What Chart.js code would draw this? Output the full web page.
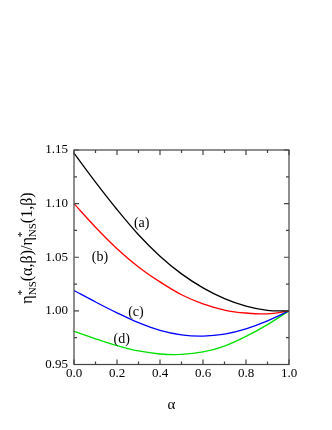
<!DOCTYPE html>
<html>
<head>
<meta charset="utf-8">
<script src="https://cdn.jsdelivr.net/npm/chart.js@4.4.0/dist/chart.umd.min.js"></script>
<style>
    html, body { margin: 0; padding: 0; background: #fff; }
    #wrap { width: 332px; height: 430px; }
</style>
</head>
<body>
<div id="wrap"><canvas id="viscChart" width="332" height="430"></canvas></div>
<script>
// Data
const alphaValues = [0.0, 0.1, 0.2, 0.3, 0.4, 0.5, 0.6, 0.7, 0.8, 0.9, 1.0];
const curveA = [1.147, 1.120, 1.0945, 1.071, 1.051, 1.0345, 1.0215, 1.0115, 1.0045, 1.0005, 1.000];
const curveB = [1.100, 1.078, 1.058, 1.041, 1.027, 1.015, 1.0065, 1.0008, 0.998, 0.9972, 1.000];
const curveC = [1.019, 1.0083, 0.9982, 0.9890, 0.9818, 0.9776, 0.9765, 0.9783, 0.9832, 0.9906, 1.000];
const curveD = [0.981, 0.9740, 0.9676, 0.9626, 0.9598, 0.9594, 0.9617, 0.9672, 0.9762, 0.9872, 1.000];
const curveNames = ['(a)', '(b)', '(c)', '(d)'];
const xTicks = [0.0, 0.2, 0.4, 0.6, 0.8, 1.0];
const yTicks = [0.95, 1.00, 1.05, 1.10, 1.15];

const SERIF = '"Liberation Serif", "Times New Roman", serif';

// label anchors in data units
const labelPos = [
    { x: 0.315, y: 1.082 },
    { x: 0.121, y: 1.050 },
    { x: 0.288, y: 0.9985 },
    { x: 0.222, y: 0.9734 }
];

function toPoints(vals) {
    return alphaValues.map((a, i) => ({ x: a, y: vals[i] }));
}

// Frame, inward ticks, curve labels and axis titles
const decorPlugin = {
    id: 'decor',
    afterDraw(chart) {
        const ctx = chart.ctx;
        const area = chart.chartArea;
        const xs = chart.scales.x;
        const ys = chart.scales.y;

        ctx.save();
        ctx.strokeStyle = '#444';
        ctx.lineWidth = 1.2;
        ctx.strokeRect(area.left, area.top, area.right - area.left, area.bottom - area.top);

        // x ticks every 0.1, bottom and top
        for (let i = 0; i <= 10; i++) {
            const px = xs.getPixelForValue(i / 10);
            const len = i % 2 === 0 ? 5 : 3;
            ctx.beginPath();
            ctx.moveTo(px, area.bottom);
            ctx.lineTo(px, area.bottom - len);
            ctx.moveTo(px, area.top);
            ctx.lineTo(px, area.top + len);
            ctx.stroke();
        }
        // y ticks every 0.025, left and right
        for (let i = 0; i <= 8; i++) {
            const py = ys.getPixelForValue(0.95 + i * 0.025);
            const len = i % 2 === 0 ? 5 : 3;
            ctx.beginPath();
            ctx.moveTo(area.left, py);
            ctx.lineTo(area.left + len, py);
            ctx.moveTo(area.right, py);
            ctx.lineTo(area.right - len, py);
            ctx.stroke();
        }

        // curve labels
        ctx.fillStyle = '#000';
        ctx.font = '14px ' + SERIF;
        ctx.textAlign = 'center';
        ctx.textBaseline = 'middle';
        curveNames.forEach((name, i) => {
            ctx.fillText(name, xs.getPixelForValue(labelPos[i].x), ys.getPixelForValue(labelPos[i].y));
        });

        // x title
        ctx.font = '15px ' + SERIF;
        ctx.fillText('α', (area.left + area.right) / 2 - 10, 405);

        // y title with super/subscripts
        const main = '16px ' + SERIF;
        const small = '11px ' + SERIF;
        const parts = [
            { t: 'η', f: main },
            { sup: '*', sub: 'NS' },
            { t: '(α,β)/η', f: main },
            { sup: '*', sub: 'NS' },
            { t: '(1,β)', f: main }
        ];
        let total = 0;
        parts.forEach(p => {
            if (p.t) {
                ctx.font = p.f;
                p.w = ctx.measureText(p.t).width;
            } else {
                ctx.font = small;
                p.w = Math.max(ctx.measureText(p.sup).width, ctx.measureText(p.sub).width);
            }
            total += p.w;
        });
        ctx.translate(27, 248);
        ctx.rotate(-Math.PI / 2);
        ctx.textAlign = 'left';
        ctx.textBaseline = 'alphabetic';
        let cx = -total / 2;
        parts.forEach(p => {
            if (p.t) {
                ctx.font = p.f;
                ctx.fillText(p.t, cx, 5);
            } else {
                ctx.font = small;
                ctx.fillText(p.sup, cx, -2);
                ctx.fillText(p.sub, cx, 9);
            }
            cx += p.w;
        });
        ctx.restore();
    }
};

const colors = ['#000000', '#ff0000', '#0000ff', '#00e000'];
const series = [curveA, curveB, curveC, curveD];

new Chart(document.getElementById('viscChart'), {
    type: 'line',
    data: {
        datasets: series.map((vals, i) => ({
            label: curveNames[i],
            data: toPoints(vals),
            borderColor: colors[i],
            borderWidth: 1.3,
            pointRadius: 0,
            tension: 0.35,
            fill: false
        }))
    },
    options: {
        responsive: false,
        animation: false,
        layout: { padding: { left: 0, right: 43, top: 150, bottom: 0 } },
        plugins: {
            legend: { display: false },
            tooltip: { enabled: false }
        },
        scales: {
            x: {
                type: 'linear',
                min: 0,
                max: 1,
                afterBuildTicks: scale => { scale.ticks = xTicks.map(v => ({ value: v })); },
                afterFit: scale => { scale.height = 65.5; },
                grid: { display: false, drawTicks: false },
                border: { display: false },
                ticks: {
                    padding: 1,
                    color: '#000',
                    font: { family: SERIF, size: 13 },
                    callback: v => v.toFixed(1)
                }
            },
            y: {
                type: 'linear',
                min: 0.95,
                max: 1.15,
                afterBuildTicks: scale => { scale.ticks = yTicks.map(v => ({ value: v })); },
                afterFit: scale => { scale.width = 74; },
                grid: { display: false, drawTicks: false },
                border: { display: false },
                ticks: {
                    padding: 6,
                    color: '#000',
                    font: { family: SERIF, size: 13 },
                    callback: v => v.toFixed(2)
                }
            }
        }
    },
    plugins: [decorPlugin]
});
</script>
</body>
</html>
